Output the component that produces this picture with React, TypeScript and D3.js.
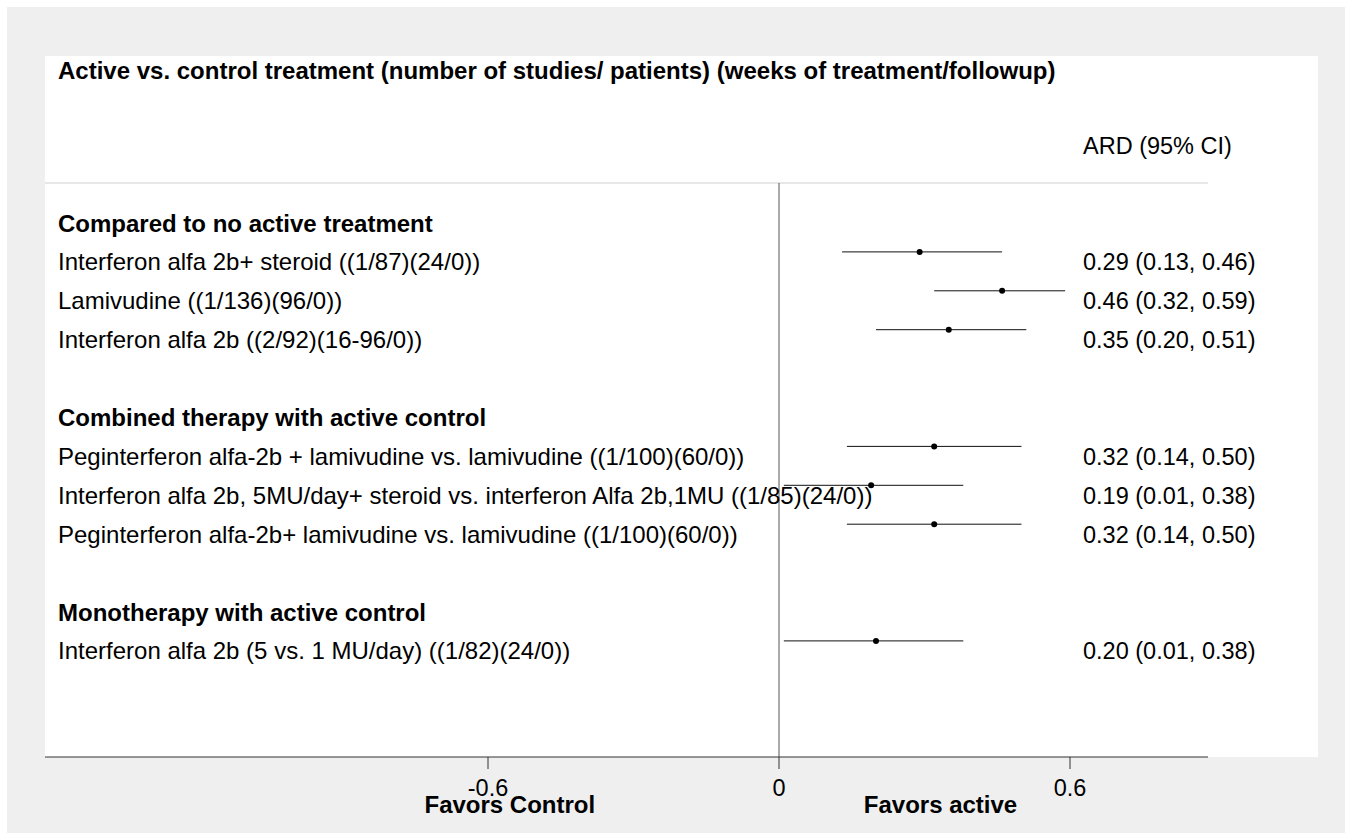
import React from "react";
import * as d3 from "d3";

// Forest plot: absolute risk difference (ARD) with 95% CI by comparison.
const groupTitles = [
  "Compared to no active treatment",
  "Combined therapy with active control",
  "Monotherapy with active control",
];

// Row index of each group heading in the table layout.
const groupRows = [0, 5, 10];

const studyLabels = [
  "Interferon alfa 2b+ steroid ((1/87)(24/0))",
  "Lamivudine ((1/136)(96/0))",
  "Interferon alfa 2b ((2/92)(16-96/0))",
  "Peginterferon alfa-2b + lamivudine vs. lamivudine ((1/100)(60/0))",
  "Interferon alfa 2b, 5MU/day+ steroid vs. interferon Alfa 2b,1MU ((1/85)(24/0))",
  "Peginterferon alfa-2b+ lamivudine vs. lamivudine ((1/100)(60/0))",
  "Interferon alfa 2b (5 vs. 1 MU/day) ((1/82)(24/0))",
];
const studyRows = [1, 2, 3, 6, 7, 8, 11];
const estimates = [0.29, 0.46, 0.35, 0.32, 0.19, 0.32, 0.2];
const lowerCI = [0.13, 0.32, 0.2, 0.14, 0.01, 0.14, 0.01];
const upperCI = [0.46, 0.59, 0.51, 0.5, 0.38, 0.5, 0.38];

const axisTicks = [-0.6, 0, 0.6];
const titleText =
  "Active vs. control treatment (number of studies/ patients) (weeks of treatment/followup)";
const columnHeader = "ARD (95% CI)";
const favorsLabels = [
  { text: "Favors Control", at: -0.555 },
  { text: "Favors active", at: 0.333 },
];

const VW = 1345;
const VH = 833;
const FONT = "'Liberation Sans', Arial, Helvetica, sans-serif";

export default function App() {
  const panel = { left: 37, top: 48, right: 1310, bottom: 749 };
  const tableRight = 1200;
  const labelX = 50;
  const valueX = 1075;
  const labelSize = 24;
  const valueSize = 23.5;

  const x = d3.scaleLinear().domain([-0.6, 0.6]).range([480, 1062]);
  const rowBaseline = d3.scaleLinear().domain([0, 1]).range([223.5, 262.4]);
  const ciOffset = -18.5;
  const fmt = d3.format(".2f");

  return (
    <svg
      width={VW}
      height={VH}
      style={{ position: "fixed", left: 0, top: 0, display: "block" }}
      fontFamily={FONT}
    >
      <g transform="translate(8,8)">
        <rect x={-1} y={-1} width={VW} height={VH} fill="#efefef" />
        <rect
          x={panel.left}
          y={panel.top}
          width={panel.right - panel.left}
          height={panel.bottom - panel.top}
          fill="#ffffff"
        />

        <text x={labelX} y={71} fontSize={24} fontWeight="bold" fill="#000">
          {titleText}
        </text>
        <text x={valueX} y={146} fontSize={valueSize} fill="#000">
          {columnHeader}
        </text>

        <line
          x1={panel.left}
          x2={tableRight}
          y1={175}
          y2={175}
          stroke="#cfcfcf"
          strokeWidth={1}
        />

        {/* line of no effect */}
        <line
          x1={x(0)}
          x2={x(0)}
          y1={175}
          y2={panel.bottom}
          stroke="#555"
          strokeWidth={1}
        />

        {groupTitles.map((g, i) => (
          <text
            key={g}
            x={labelX}
            y={rowBaseline(groupRows[i])}
            fontSize={labelSize}
            fontWeight="bold"
            fill="#000"
          >
            {g}
          </text>
        ))}

        {studyLabels.map((s, i) => {
          const base = rowBaseline(studyRows[i]);
          const cy = base + ciOffset;
          return (
            <g key={s}>
              <text x={labelX} y={base} fontSize={labelSize} fill="#000">
                {s}
              </text>
              <line
                x1={x(lowerCI[i])}
                x2={x(upperCI[i])}
                y1={cy}
                y2={cy}
                stroke="#111"
                strokeWidth={1}
              />
              <circle cx={x(estimates[i])} cy={cy} r={3} fill="#000" />
              <text x={valueX} y={base} fontSize={valueSize} fill="#000">
                {`${fmt(estimates[i])} (${fmt(lowerCI[i])}, ${fmt(upperCI[i])})`}
              </text>
            </g>
          );
        })}

        {/* x axis */}
        <line
          x1={panel.left}
          x2={tableRight}
          y1={panel.bottom}
          y2={panel.bottom}
          stroke="#333"
          strokeWidth={1}
        />
        {axisTicks.map((t) => (
          <g key={t}>
            <line
              x1={x(t)}
              x2={x(t)}
              y1={panel.bottom}
              y2={panel.bottom + 12}
              stroke="#333"
              strokeWidth={1}
            />
            <text
              x={x(t)}
              y={788}
              fontSize={valueSize}
              textAnchor="middle"
              fill="#000"
            >
              {String(t)}
            </text>
          </g>
        ))}
        {favorsLabels.map((f) => (
          <text
            key={f.text}
            x={x(f.at)}
            y={805}
            fontSize={labelSize}
            fontWeight="bold"
            textAnchor="middle"
            fill="#000"
          >
            {f.text}
          </text>
        ))}
      </g>
    </svg>
  );
}
